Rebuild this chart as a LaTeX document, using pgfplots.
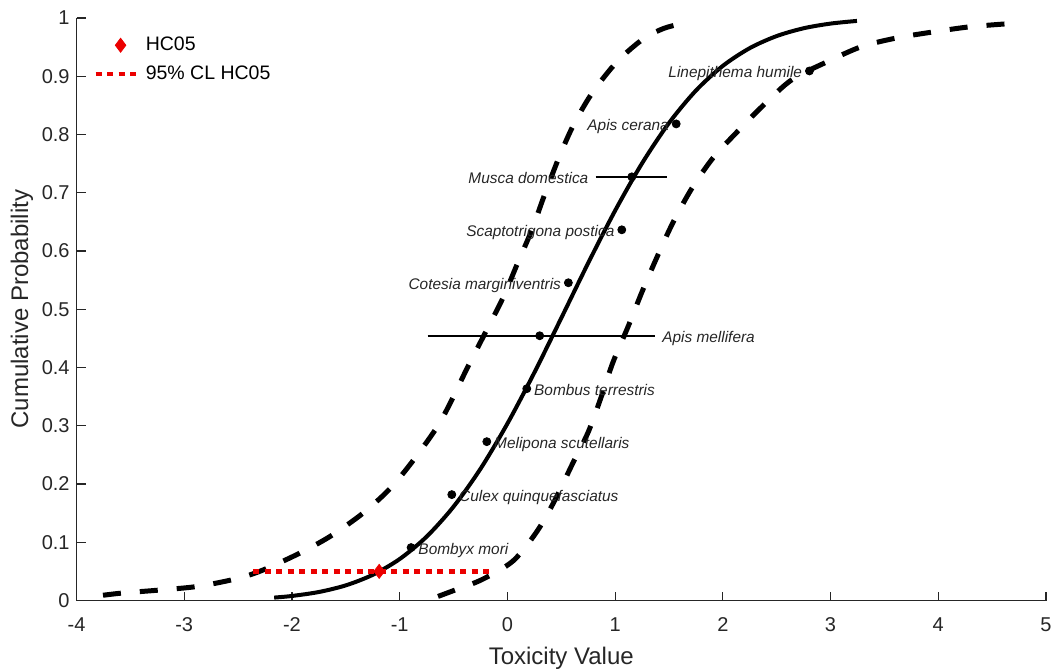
\documentclass[border=0pt]{standalone}
\usepackage{pgfplots}
\pgfplotsset{compat=1.18}
\usepackage{fontspec}
\setmainfont{Liberation Sans}
\definecolor{axgray}{RGB}{38,38,38}
\definecolor{mred}{RGB}{235,0,0}
\begin{document}
\begin{tikzpicture}
\begin{axis}[
  at={(0,0)}, anchor=south west,
  scale only axis, width=484.75pt, height=291.25pt,
  xmin=-4, xmax=5, ymin=0, ymax=1,
  axis x line=bottom, axis y line=left,
  axis line style={-, color=axgray, line width=0.6pt},
  tick align=inside, major tick length=4.5pt,
  tick style={color=axgray, line width=0.6pt},
  xtick={-4,-3,-2,-1,0,1,2,3,4,5},
  xticklabels={-4,-3,-2,-1,0,1,2,3,4,5},
  ytick={0,0.1,0.2,0.3,0.4,0.5,0.6,0.7,0.8,0.9,1},
  yticklabels={0,0.1,0.2,0.3,0.4,0.5,0.6,0.7,0.8,0.9,1},
  ticklabel style={font=\fontsize{10}{12}\selectfont, text=axgray, inner sep=0pt},
  xticklabel style={anchor=north, yshift=-8.25pt},
  yticklabel style={anchor=east, xshift=-3.25pt},
  xlabel={Toxicity Value}, ylabel={Cumulative Probability},
  label style={font=\fontsize{12}{14}\selectfont, text=axgray, inner sep=0pt},
  xlabel style={at={(axis description cs:0.5,-0.1099)}, anchor=base},
  ylabel style={at={(axis description cs:-0.0500,0.5)}, anchor=base},
  legend style={at={(axis description cs:0.017,0.975)}, anchor=north west,
    draw=none, fill=none, font=\fontsize{9.75}{11}\selectfont, inner sep=0pt,
    row sep=2pt, cells={anchor=west}},
  legend cell align=left,
  clip=false,
]
% fitted curve
\addplot[black, line width=2pt, smooth, forget plot] coordinates {
(-2.165,0.005) (-2.0,0.0078) (-1.75,0.0146) (-1.5,0.0260) (-1.25,0.0441)
(-1.0,0.0712) (-0.75,0.1096) (-0.5,0.1611) (-0.25,0.2260) (0.0,0.3036)
(0.25,0.3912) (0.5,0.4848) (0.75,0.5793) (1.0,0.6693) (1.25,0.7505)
(1.5,0.8197) (1.75,0.8754) (2.0,0.9178) (2.25,0.9483) (2.5,0.9690)
(2.75,0.9824) (3.0,0.9904) (3.245,0.995)};
% left confidence curve
\addplot[black, line width=2.5pt, smooth, dash pattern=on 9pt off 9.5pt, forget plot] coordinates {
(-3.754,0.009) (-3.565,0.013) (-3.225,0.018) (-2.884,0.024) (-2.547,0.036)
(-2.30,0.050) (-1.953,0.079) (-1.646,0.110) (-1.34,0.150) (-1.09,0.192)
(-0.876,0.240) (-0.652,0.298) (-0.514,0.345) (-0.376,0.398) (-0.207,0.459)
(-0.04,0.520) (0.09,0.577) (0.229,0.637) (0.332,0.690) (0.471,0.757)
(0.61,0.815) (0.786,0.871) (1.018,0.925) (1.26,0.964) (1.45,0.982) (1.63,0.991)};
% right confidence curve
\addplot[black, line width=2.5pt, smooth, dash pattern=on 9pt off 9.5pt, forget plot] coordinates {
(-0.644,0.007) (-0.486,0.018) (-0.235,0.036) (0.053,0.068) (0.276,0.119)
(0.443,0.173) (0.60,0.233) (0.75,0.289) (0.87,0.349) (0.98,0.409)
(1.12,0.470) (1.25,0.530) (1.39,0.590) (1.54,0.650) (1.714,0.708)
(1.91,0.760) (2.13,0.804) (2.375,0.850) (2.64,0.894) (2.97,0.925)
(3.29,0.951) (3.62,0.966) (3.95,0.976) (4.30,0.985) (4.71,0.991)};
% error bars
\addplot[black, line width=1.25pt, forget plot] coordinates {(-0.74,0.4545) (1.37,0.4545)};
\addplot[black, line width=1.25pt, forget plot] coordinates {(0.82,0.7273) (1.48,0.7273)};
% data points
\addplot[only marks, mark=*, mark size=2pt, black, forget plot] coordinates {
(-0.894,0.0909) (-0.516,0.1818) (-0.191,0.2727) (0.18,0.3636) (0.30,0.4545)
(0.566,0.5455) (1.062,0.6364) (1.155,0.7273) (1.567,0.8182) (2.804,0.9091)};
% CL of HC05
\addplot[mred, line width=2.2pt, dash pattern=on 3pt off 2.75pt, forget plot] coordinates {(-2.36,0.05) (-0.133,0.05)};
% HC05
\addplot[only marks, mark=diamond*, mark size=3.5pt, mred, forget plot] coordinates {(-1.19,0.05)};
\addlegendimage{legend image code/.code={\path (0pt,0pt) (22pt,0pt); \draw[mred, mark=diamond*, mark size=3.5pt] plot coordinates {(12.5pt,0pt)};}}
\addlegendentry{HC05}
\addlegendimage{legend image code/.code={\draw[mred, line width=2.2pt, dash pattern=on 3pt off 2.75pt] (0pt,0pt) -- (22pt,0pt);}}
\addlegendentry{95\% CL HC05}
% species labels
\tikzset{lab/.style={font=\fontsize{7.7}{9}\selectfont\itshape, text=axgray, inner sep=0pt}}
\node[lab, anchor=base west, xshift=3.5pt, yshift=-3.3pt] at (axis cs:-0.894,0.0909) {Bombyx mori};
\node[lab, anchor=base west, xshift=3.5pt, yshift=-3.3pt] at (axis cs:-0.516,0.1818) {Culex quinquefasciatus};
\node[lab, anchor=base west, xshift=3.5pt, yshift=-3.3pt] at (axis cs:-0.191,0.2727) {Melipona scutellaris};
\node[lab, anchor=base west, xshift=3.5pt, yshift=-3.3pt] at (axis cs:0.18,0.3636) {Bombus terrestris};
\node[lab, anchor=base west, xshift=3.5pt, yshift=-3.3pt] at (axis cs:1.37,0.4545) {Apis mellifera};
\node[lab, anchor=base east, xshift=-3.5pt, yshift=-3.3pt] at (axis cs:0.566,0.5455) {Cotesia marginiventris};
\node[lab, anchor=base east, xshift=-3.5pt, yshift=-3.3pt] at (axis cs:1.062,0.6364) {Scaptotrigona postica};
\node[lab, anchor=base east, xshift=-3.5pt, yshift=-3.3pt] at (axis cs:0.82,0.7273) {Musca domestica};
\node[lab, anchor=base east, xshift=-3.5pt, yshift=-3.3pt] at (axis cs:1.567,0.8182) {Apis cerana};
\node[lab, anchor=base east, xshift=-3.5pt, yshift=-3.3pt] at (axis cs:2.804,0.9091) {Linepithema humile};
\end{axis}
\path (-38.25pt,-35.25pt) rectangle (488.25pt,300.25pt);
\end{tikzpicture}
\end{document}
